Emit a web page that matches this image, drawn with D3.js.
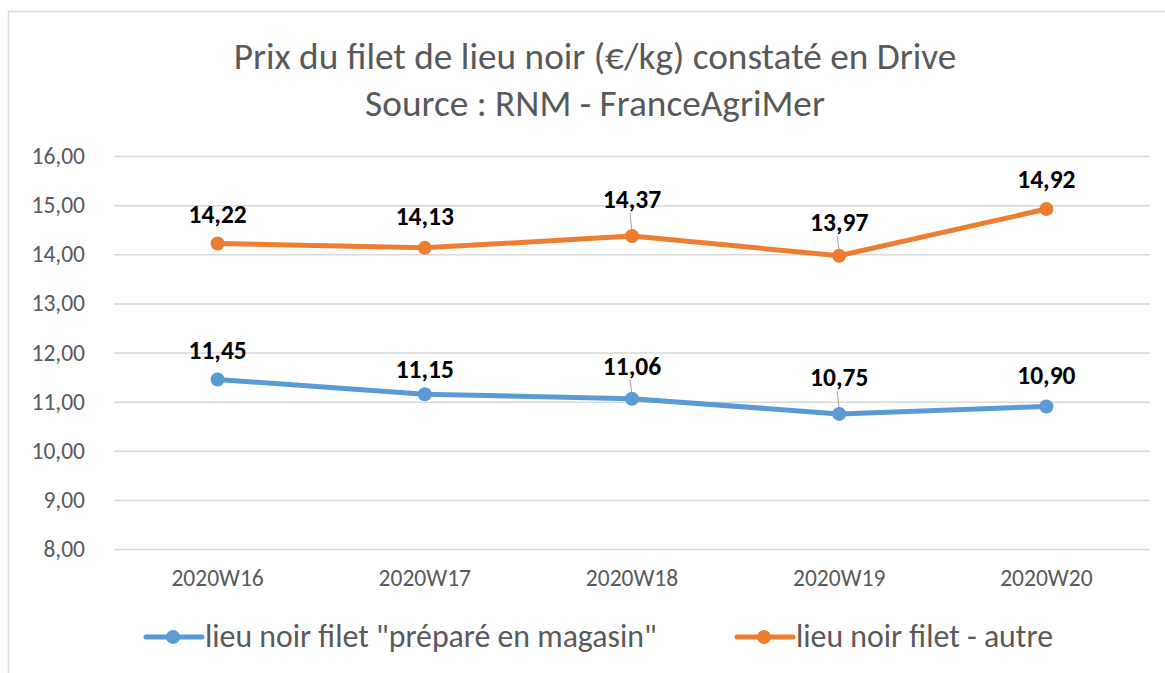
<!DOCTYPE html>
<html>
<head>
<meta charset="utf-8">
<script src="https://cdn.jsdelivr.net/npm/d3@7"></script>
<style>
  body { margin: 0; background: #fff; }
  text { font-family: Carlito, Calibri, "Open Sans", sans-serif; }
</style>
</head>
<body>
<script>
// data
var weeks = ["2020W16", "2020W17", "2020W18", "2020W19", "2020W20"];
var prepare = [11.45, 11.15, 11.06, 10.75, 10.90];
var autre = [14.22, 14.13, 14.37, 13.97, 14.92];
var yTicks = [8, 9, 10, 11, 12, 13, 14, 15, 16];
var seriesNames = ['lieu noir filet "préparé en magasin"', 'lieu noir filet - autre'];

var width = 1165, height = 673;
var plot = {left: 114, right: 1150, top: 156, bottom: 549};

// label lift above each point (Excel moved some labels and drew leader lines)
var liftPrep = [29, 24, 32, 36, 31];
var liftAutre = [28, 31, 36, 33, 29];

var svg = d3.select("body").append("svg")
  .attr("width", width)
  .attr("height", height);

// chart frame
svg.append("rect")
  .attr("x", 8.5).attr("y", 11.5)
  .attr("width", width + 20).attr("height", height + 20)
  .style("fill", "#fff")
  .style("stroke", "#d9d9d9")
  .style("stroke-width", 1.5);

svg.append("text")
  .attr("x", 595).attr("y", 69)
  .attr("text-anchor", "middle")
  .style("fill", "#595959")
  .style("font-size", "37.3px")
  .text("Prix du filet de lieu noir (€/kg) constaté en Drive");

svg.append("text")
  .attr("x", 595).attr("y", 116)
  .attr("text-anchor", "middle")
  .style("fill", "#595959")
  .style("font-size", "37.3px")
  .text("Source : RNM - FranceAgriMer");

var x = d3.scaleBand()
  .domain(weeks)
  .range([plot.left, plot.right]);

var y = d3.scaleLinear()
  .domain([8, 16])
  .range([plot.bottom, plot.top]);

var fmt = d => d3.format(".2f")(d).replace(".", ",");

// y axis with gridlines
var yAxis = d3.axisLeft(y)
  .tickValues(yTicks)
  .tickSize(-(plot.right - plot.left))
  .tickPadding(29)
  .tickFormat(fmt);

var gy = svg.append("g")
  .attr("transform", `translate(${plot.left},0)`)
  .call(yAxis);
gy.select(".domain").remove();
gy.selectAll(".tick line").style("stroke", "#d9d9d9").style("stroke-width", 1.5);
gy.selectAll(".tick text")
  .style("fill", "#595959")
  .style("font-size", "23.5px");

// x axis labels
var xAxis = d3.axisBottom(x).tickSize(0).tickPadding(20);
var gx = svg.append("g")
  .attr("transform", `translate(0,${plot.bottom})`)
  .call(xAxis);
gx.select(".domain").remove();
gx.selectAll(".tick text")
  .style("fill", "#595959")
  .style("font-size", "23.5px");

var cx = i => x(weeks[i]) + x.bandwidth() / 2;

var series = [
  {name: seriesNames[0], values: prepare, color: "#5B9BD5", lift: liftPrep},
  {name: seriesNames[1], values: autre, color: "#ED7D31", lift: liftAutre}
];

var line = d3.line()
  .x((d, i) => cx(i))
  .y(d => y(d));

series.forEach(s => {
  var pts = s.values.map((v, i) => ({v: v, i: i, lift: s.lift[i]}));

  svg.append("path")
    .datum(s.values)
    .attr("d", line)
    .style("fill", "none")
    .style("stroke", s.color)
    .style("stroke-width", 5)
    .style("stroke-linejoin", "round");

  // leader lines for labels pushed away from their point
  svg.selectAll(null)
    .data(pts.filter(p => p.lift > 31.5))
    .enter()
    .append("line")
    .attr("x1", p => cx(p.i) - 2)
    .attr("x2", p => cx(p.i))
    .attr("y1", p => y(p.v) - p.lift + 13)
    .attr("y2", p => y(p.v) - 4)
    .style("stroke", "#a6a6a6")
    .style("stroke-width", 1);

  svg.selectAll(null)
    .data(pts)
    .enter()
    .append("circle")
    .attr("cx", p => cx(p.i))
    .attr("cy", p => y(p.v))
    .attr("r", 7)
    .style("fill", s.color);

  svg.selectAll(null)
    .data(pts)
    .enter()
    .append("text")
    .attr("x", p => cx(p.i))
    .attr("y", p => y(p.v) - p.lift + 8)
    .attr("text-anchor", "middle")
    .style("fill", "#000")
    .style("font-weight", "bold")
    .style("font-size", "25.5px")
    .text(p => fmt(p.v));
});

// legend
var legendX = [146, 737];
var legend = svg.selectAll("g.legend")
  .data(series)
  .enter()
  .append("g")
  .attr("class", "legend")
  .attr("transform", (d, i) => `translate(${legendX[i]},637)`);

legend.append("line")
  .attr("x1", 0).attr("x2", 56)
  .style("stroke", d => d.color)
  .style("stroke-width", 5)
  .style("stroke-linecap", "round");

legend.append("circle")
  .attr("cx", 27).attr("r", 7)
  .style("fill", d => d.color);

legend.append("text")
  .attr("x", 59).attr("y", 10)
  .style("fill", "#595959")
  .style("font-size", "31.8px")
  .text(d => d.name);
</script>
</body>
</html>
